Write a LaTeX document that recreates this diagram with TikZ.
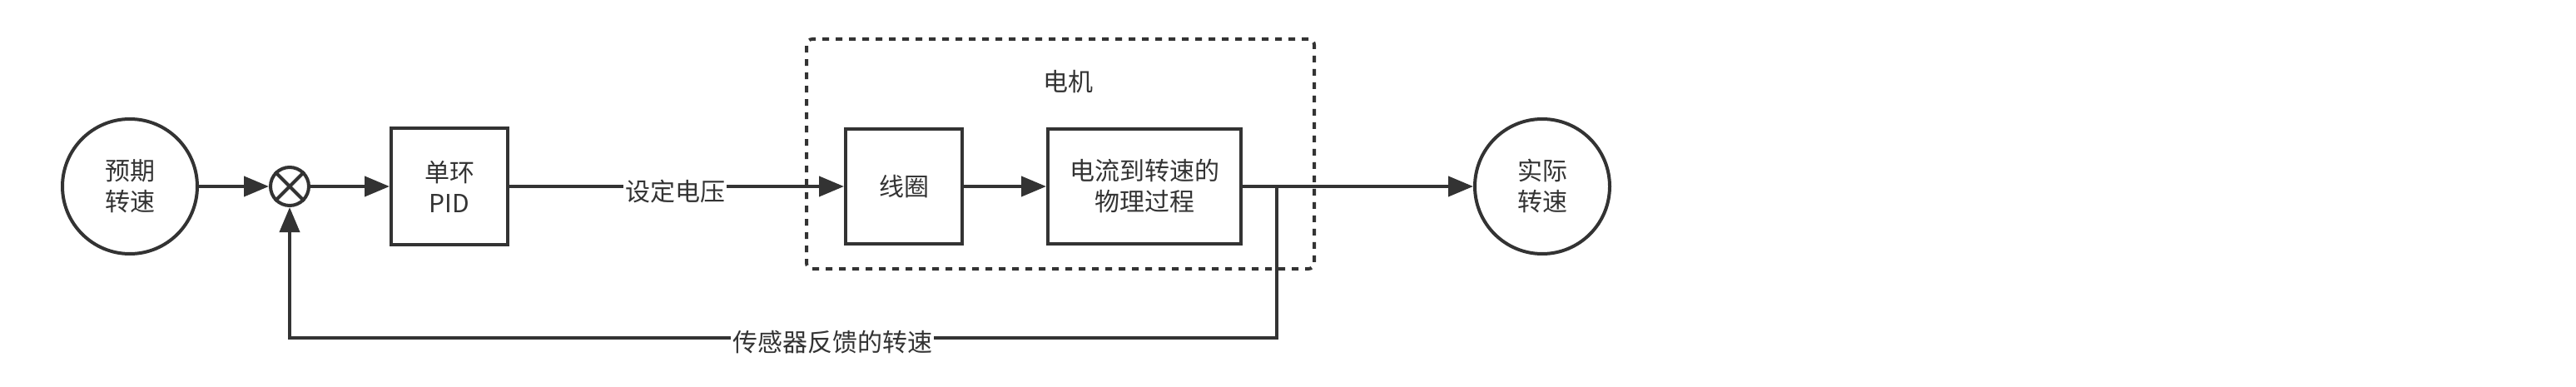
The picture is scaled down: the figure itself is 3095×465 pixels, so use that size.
\documentclass[tikz,border=0pt]{standalone}
\usepackage{fontspec}
\setmainfont{Noto Sans CJK SC}
\usetikzlibrary{arrows.meta}
\definecolor{ink}{HTML}{333333}
\begin{document}
\begin{tikzpicture}[x=0.5pt, y=-0.5pt,
    every node/.style={font=\fontsize{15pt}{18.5pt}\selectfont, text=ink, align=center},
    blk/.style={draw=ink, line width=2pt, minimum height=69pt, inner sep=0pt},
    ring/.style={draw=ink, line width=2pt, circle, minimum size=81pt, inner sep=0pt},
    tag/.style={fill=white, inner sep=1pt},
    >={Triangle[length=15pt, width=12pt]}]
    \useasboundingbox (0,0) rectangle (3095,465);
    \node[draw=ink, line width=2pt, dash pattern=on 4pt off 4pt, rounded corners=3.5pt,
          minimum width=305pt, minimum height=138pt] (motor) at (1274,185) {};
    \node (motorlbl) at (1283,98) {电机};

    \node[ring] (want) at (156,224) {预期\\转速};
    \node[draw=ink, line width=2pt, circle, minimum size=23pt, inner sep=0pt] (sum) at (348,224) {};
    \draw[ink, line width=2pt] (sum.north west) -- (sum.south east) (sum.north east) -- (sum.south west);
    \node[blk, minimum width=70pt, minimum height=70pt] (pid) at (540,224) {单环\\PID};
    \node[blk, minimum width=70pt] (coil) at (1086,224) {线圈};
    \node[blk, minimum width=116pt] (phys) at (1375,224) {电流到转速的\\物理过程};
    \node[ring] (real) at (1853,224) {实际\\转速};
    \coordinate (tap) at (1534,406);

    \draw[ink, line width=2pt, ->] (want) -- (sum);
    \draw[ink, line width=2pt, ->] (sum) -- (pid);
    \draw[ink, line width=2pt, ->] (pid) -- (coil);
    \draw[ink, line width=2pt, ->] (coil) -- (phys);
    \draw[ink, line width=2pt, ->] (phys) -- (real);
    \draw[ink, line width=2pt, ->] (phys.east) -| (tap) -| (sum.south);

    \node[tag] (voltlbl) at (811,230) {设定电压};
    \node[tag] (fbklbl) at (1000,411) {传感器反馈的转速};
\end{tikzpicture}
\end{document}
